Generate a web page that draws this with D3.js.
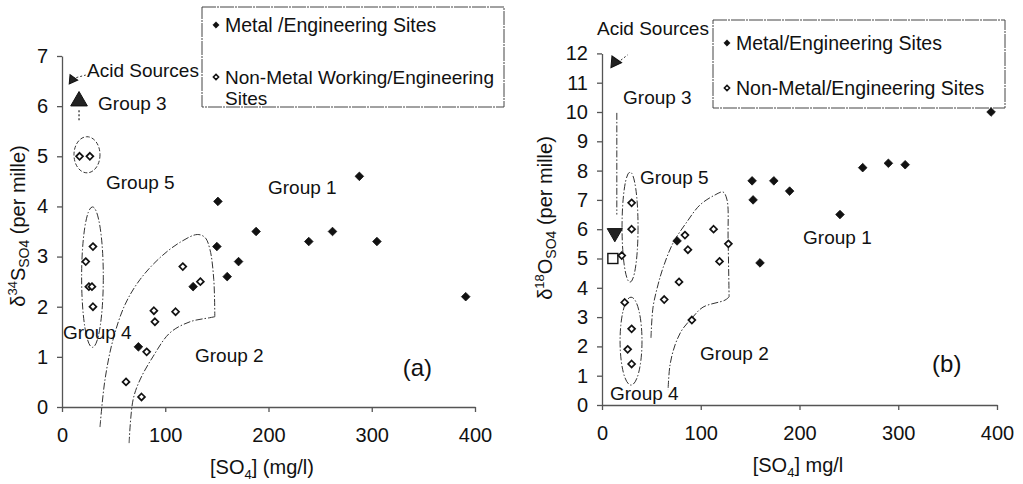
<!DOCTYPE html>
<html><head><meta charset="utf-8">
<script src="https://cdn.jsdelivr.net/npm/d3@7"></script>
<style>
body{margin:0;background:#fff}
svg{display:block}
text{font-family:"Liberation Sans",Arial,Helvetica,sans-serif;fill:#111}
</style></head>
<body><svg id="c" width="1023" height="484"></svg>
<script>
// ---------- DATA ----------
const xTicks = [0, 100, 200, 300, 400];
const yTicksA = [0, 1, 2, 3, 4, 5, 6, 7];
const yTicksB = [0, 1, 2, 3, 4, 5, 6, 7, 8, 9, 10, 11, 12];

// Panel (a): [SO4] mg/l vs d34S
const metalA = [[151,4.1],[188,3.5],[239,3.3],[262,3.5],[305,3.3],[288,4.6],[391,2.2],[150,3.2],[171,2.9],[160,2.6],[127,2.4],[74,1.2]];
const nonMetalA = [[17,5.0],[27,5.0],[30,3.2],[23,2.9],[26,2.4],[29,2.4],[30,2.0],[89,1.92],[90,1.7],[110,1.9],[117,2.8],[134,2.5],[82,1.1],[62,0.5],[77,0.2]];
const acidA = [10, 6.53];
const group3A = [16.5, 6.1];

// Panel (b): [SO4] mg/l vs d18O
const metalB = [[152,7.65],[174,7.65],[190,7.3],[153,7.0],[241,6.5],[264,8.1],[290,8.25],[307,8.2],[394,10.0],[160,4.85],[76,5.6]];
const nonMetalB = [[30,6.9],[30,6.0],[20,5.1],[84,5.8],[87,5.3],[78,4.2],[63,3.6],[91,2.9],[113,6.0],[119,4.9],[128,5.5],[23,3.5],[30,2.6],[26,1.9],[30,1.4]];
const acidB = [13, 11.7];
const group3B = [13, 5.87];
const squareB = [11, 5.0];

// Group 2 envelopes (data units)
const g2UpperA = [[36.8,-0.4],[41.6,0.54],[49.4,1.34],[61,2.04],[75.5,2.54],[95,2.98],[114,3.28],[131,3.44],[138.5,3.38],[143.3,3.14],[147,2.54],[148,1.8]];
const g2LowerA = [[148,1.8],[143,1.78],[124,1.7],[104.6,1.48],[88,1.0],[75.5,0.54],[68.8,0.14],[65,-0.72]];
const g2UpperB = [[49.6,2.29],[51.7,3.34],[56.7,4.1],[61.8,4.68],[72,5.53],[86,6.25],[99.3,6.83],[114.5,7.17],[122.6,7.27],[126.6,7.0],[127.7,5.63],[128.7,3.69]];
const g2LowerB = [[128.7,3.69],[124.6,3.58],[102.3,3.34],[91.2,2.97],[81,2.56],[74,2.05],[68.9,1.37],[66.9,0.51]];
const group3LineB = [[15,9.97],[15,6.5]];

// ---------- CHART ----------
const svg = d3.select("#c");
const ink = "#111", axisCol = "#555";

const xA = d3.scaleLinear().domain([0,400]).range([62,475]);
const yA = d3.scaleLinear().domain([0,7]).range([407,56]);
const xB = d3.scaleLinear().domain([0,400]).range([602,997]);
const yB = d3.scaleLinear().domain([0,12]).range([405,53.4]);

const diamondType = {draw(ctx, size){const r=Math.sqrt(size)*0.7071;ctx.moveTo(0,-r);ctx.lineTo(r,0);ctx.lineTo(0,r);ctx.lineTo(-r,0);ctx.closePath();}};
const dFilled = d3.symbol().type(diamondType).size(37)();
const dHollow = d3.symbol().type(diamondType).size(24)();
const fmt = d3.format("d");

function axes(g, x, y, yTicks){
  const ax = g.append("g").attr("transform",`translate(0,${y(0)})`)
    .call(d3.axisBottom(x).tickValues(xTicks).tickFormat(fmt).tickSize(5).tickSizeOuter(0).tickPadding(16));
  const ay = g.append("g").attr("transform",`translate(${x(0)},0)`)
    .call(d3.axisLeft(y).tickValues(yTicks).tickFormat(fmt).tickSize(5).tickSizeOuter(0).tickPadding(9));
  [ax,ay].forEach(a=>{
    a.selectAll("path,line").attr("stroke",axisCol).attr("stroke-width",1.3);
    a.selectAll("text").attr("font-size",20).attr("fill",ink).style("font-family","'Liberation Sans',Arial,sans-serif");
  });
}

function points(g, x, y, metal, non){
  g.selectAll(null).data(non).enter().append("path").attr("d",dHollow)
    .attr("transform",d=>`translate(${x(d[0])},${y(d[1])})`)
    .attr("fill","#fff").attr("stroke",ink).attr("stroke-width",1.7);
  g.selectAll(null).data(metal).enter().append("path").attr("d",dFilled)
    .attr("transform",d=>`translate(${x(d[0])},${y(d[1])})`)
    .attr("fill",ink).attr("stroke",ink).attr("stroke-width",0.8);
}

const curve = d3.line().curve(d3.curveCatmullRom.alpha(0.5));
function envelope(g, x, y, arr){
  g.append("path").attr("d",curve(arr.map(d=>[x(d[0]),y(d[1])])))
    .attr("fill","none").attr("stroke","#333").attr("stroke-width",1)
    .attr("stroke-dasharray","7,2,1.5,2");
}
function ellipse(g, x, y, cx, cy, rx, ry, dash){
  g.append("ellipse").attr("cx",x(cx)).attr("cy",y(cy))
    .attr("rx",x(cx+rx)-x(cx)).attr("ry",y(cy)-y(cy+ry))
    .attr("fill","none").attr("stroke","#333").attr("stroke-width",1)
    .attr("stroke-dasharray",dash);
}
function label(g, x, y, px, py, txt, size){
  g.append("text").attr("x",x(px)).attr("y",y(py)).attr("dy","0.35em")
    .attr("font-size",size||19).text(txt);
}
function tri(g, cx, cy, size, rot){
  g.append("path").attr("d",d3.symbol().type(d3.symbolTriangle).size(size)())
    .attr("transform",`translate(${cx},${cy}) rotate(${rot})`)
    .attr("fill","#222").attr("stroke","#111").attr("stroke-width",1);
}
function legend(g, x0, y0, x1, y1, items){
  g.append("rect").attr("x",x0).attr("y",y0).attr("width",x1-x0).attr("height",y1-y0)
    .attr("fill","#fff").attr("stroke","#444").attr("stroke-width",1).attr("stroke-dasharray","14,1,2,1");
  items.forEach(it=>{
    const sym = d3.symbol().type(diamondType).size(it.filled?20:14)();
    g.append("path").attr("d",sym).attr("transform",`translate(${x0+14},${it.y})`)
      .attr("fill",it.filled?ink:"#fff").attr("stroke",ink).attr("stroke-width",it.filled?0.6:1.5);
    it.lines.forEach((s,i)=>{
      g.append("text").attr("x",x0+23).attr("y",it.y+i*21).attr("dy","0.35em")
        .attr("font-size",it.lines.length>1?19:19.5).text(s);
    });
  });
}
function yTitle(g, cx, cy, iso, el){
  const t = g.append("text").attr("transform",`translate(${cx},${cy}) rotate(-90)`)
    .attr("text-anchor","middle").attr("dy","0.35em").attr("font-size",20);
  t.append("tspan").text("\u03b4");
  t.append("tspan").attr("font-size",13).attr("dy",-8).text(iso);
  t.append("tspan").attr("dy",8).text(el);
  t.append("tspan").attr("font-size",14).attr("dy",4).text("SO4");
  t.append("tspan").attr("dy",-4).text(" (per mille)");
}
function xTitle(g, cx, cy, tail){
  const t = g.append("text").attr("x",cx).attr("y",cy).attr("dy","0.35em")
    .attr("text-anchor","middle").attr("font-size",20);
  t.append("tspan").text("[SO");
  t.append("tspan").attr("font-size",13).attr("dy",5).text("4");
  t.append("tspan").attr("dy",-5).text("]" + tail);
}

// ---- Panel (a) ----
const gA = svg.append("g");
axes(gA, xA, yA, yTicksA);
legend(gA, 202, 7, 504, 107, [
  {y:25, filled:true, lines:["Metal /Engineering Sites"]},
  {y:77, filled:false, lines:["Non-Metal Working/Engineering","Sites"]}
]);
envelope(gA, xA, yA, g2UpperA);
envelope(gA, xA, yA, g2LowerA);
ellipse(gA, xA, yA, 24.2, 5.03, 12.6, 0.36, "4,2");
ellipse(gA, xA, yA, 29.5, 2.59, 10.5, 1.4, "7,2,1.5,2");
tri(gA, xA(acidA[0]), yA(acidA[1]), 38, -25);
gA.append("line").attr("x1",xA(acidA[0])+4).attr("y1",yA(acidA[1])-2).attr("x2",xA(23)).attr("y2",yA(6.62))
  .attr("stroke","#333").attr("stroke-dasharray","2,2");
tri(gA, xA(group3A[0]), yA(group3A[1]), 120, 0);
gA.append("line").attr("x1",xA(group3A[0])).attr("x2",xA(group3A[0]))
  .attr("y1",yA(group3A[1])+9).attr("y2",yA(5.7)).attr("stroke","#333").attr("stroke-dasharray","2,2").attr("stroke-width",1.3);
points(gA, xA, yA, metalA, nonMetalA);
label(gA, xA, yA, 24.2, 6.72, "Acid Sources");
label(gA, xA, yA, 34.9, 6.06, "Group 3");
label(gA, xA, yA, 42.6, 4.49, "Group 5");
label(gA, xA, yA, 1.0, 1.48, "Group 4");
label(gA, xA, yA, 199.5, 4.39, "Group 1");
label(gA, xA, yA, 128.8, 1.04, "Group 2");
label(gA, xA, yA, 330, 0.78, "(a)", 24);
yTitle(gA, 18, 226, "34", "S");
xTitle(gA, 262, 467, " (mg/l)");

// ---- Panel (b) ----
const gB = svg.append("g");
axes(gB, xB, yB, yTicksB);
legend(gB, 713, 20, 1005, 108, [
  {y:43, filled:true, lines:["Metal/Engineering Sites"]},
  {y:88, filled:false, lines:["Non-Metal/Engineering Sites"]}
]);
envelope(gB, xB, yB, g2UpperB);
envelope(gB, xB, yB, g2LowerB);
ellipse(gB, xB, yB, 28.4, 6.07, 8.1, 1.88, "7,2,1.5,2");
ellipse(gB, xB, yB, 29.4, 2.18, 11.1, 1.5, "7,2,1.5,2");
gB.append("path").attr("d",d3.line()(group3LineB.map(d=>[xB(d[0]),yB(d[1])])))
  .attr("stroke","#333").attr("stroke-width",1).attr("stroke-dasharray","7,2,1.5,2");
tri(gB, xB(acidB[0]), yB(acidB[1]), 60, -25);
gB.append("line").attr("x1",xB(acidB[0])+6).attr("y1",yB(acidB[1])-2).attr("x2",xB(26)).attr("y2",yB(11.95))
  .attr("stroke","#333").attr("stroke-dasharray","2,2");
tri(gB, xB(group3B[0]), yB(group3B[1]), 100, 180);
gB.append("rect").attr("x",xB(squareB[0])-5).attr("y",yB(squareB[1])-5).attr("width",10).attr("height",10)
  .attr("fill","#fff").attr("stroke",ink).attr("stroke-width",1.4);
points(gB, xB, yB, metalB, nonMetalB);
label(gB, xB, yB, -5.1, 12.87, "Acid Sources");
label(gB, xB, yB, 21.3, 10.51, "Group 3");
label(gB, xB, yB, 38.5, 7.78, "Group 5");
label(gB, xB, yB, 8.1, 0.41, "Group 4");
label(gB, xB, yB, 203.6, 5.73, "Group 1");
label(gB, xB, yB, 99.3, 1.77, "Group 2");
label(gB, xB, yB, 334.3, 1.43, "(b)", 24);
yTitle(gB, 545, 218, "18", "O");
xTitle(gB, 798, 465, " mg/l");
</script></body></html>
